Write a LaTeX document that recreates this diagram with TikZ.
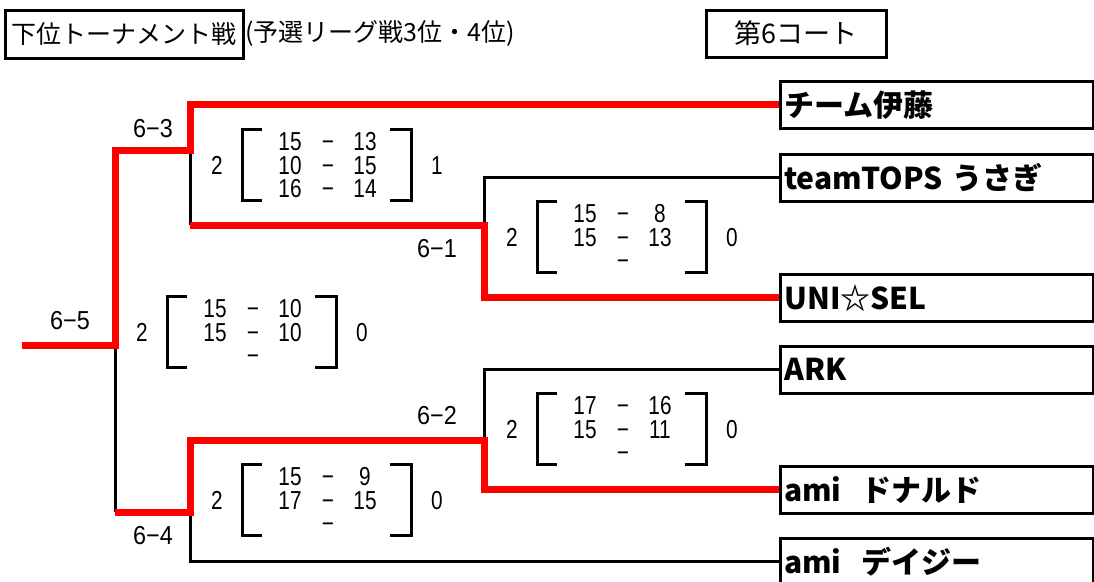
\documentclass[tikz,border=0pt]{standalone}
\usepackage{fontspec}
\setmainfont{Noto Sans CJK JP}
\newfontfamily\numfont[FakeStretch=0.8]{Liberation Sans}
\newfontfamily\lblfont[FakeStretch=0.9]{Liberation Sans}
\newcommand\matchblk[6]{%
  % #1 name, #2 xl, #3 yc, #4 winner sets, #5 loser sets, #6 rows a/b
  \begin{scope}[shift={(#2,#3)}]
    \node[score] (#1-w) at (-25,0) {#4};
    \node[score] (#1-l) at (195,0) {#5};
    \draw[brk] (20,-35.5) -- (0,-35.5) -- (0,35.5) -- (20,35.5);
    \draw[brk] (148,-35.5) -- (169,-35.5) -- (169,35.5) -- (148,35.5);
    \foreach \a/\b [count=\i] in {#6} {
      \node[score] (#1-a\i) at (48,{(\i-2)*23.5}) {\a};
      \node[score] (#1-d\i) at (86,{(\i-2)*23.5}) {−};
      \node[score] (#1-b\i) at (123,{(\i-2)*23.5}) {\b};
    }
  \end{scope}}
\begin{document}
\begin{tikzpicture}[x=1pt,y=-1pt,
  redln/.style={draw=red, line width=7pt},
  blkln/.style={draw=black, line width=3pt},
  brk/.style={draw=black, line width=3pt},
  team/.style={draw, line width=2.5pt, anchor=north west, minimum width=313pt,
    minimum height=47pt, text width=305pt, align=left, inner xsep=4pt,
    font=\fontsize{30}{30}\selectfont\bfseries},
  score/.style={font=\numfont\fontsize{26}{26}\selectfont, inner sep=0pt,
    text height=18.6pt, text depth=0pt},
  lbl/.style={font=\lblfont\fontsize{26}{26}\selectfont, inner sep=0pt,
    text height=18.6pt, text depth=0pt},
  hdr/.style={draw, line width=3pt, inner sep=0pt}]
\useasboundingbox (0,0) rectangle (1094,581);

% headers
\node[hdr, minimum width=238pt, minimum height=48pt, font=\fontsize{25}{25}\selectfont] (title) at (124,34) {下位トーナメント戦};
\node[anchor=west, inner sep=0pt, font=\fontsize{25}{25}\selectfont] (sub) at (245,33) {(予選リーグ戦3位・4位)};
\node[hdr, minimum width=180pt, minimum height=47pt, font=\fontsize{27}{27}\selectfont] (court) at (796,33.5) {第6コート};

% teams
\node[team] (t1) at (779,80) {チーム伊藤};
\node[team] (t2) at (779,153) {teamTOPS うさぎ};
\node[team] (t3) at (779,273) {UNI☆SEL};
\node[team] (t4) at (779,345) {ARK};
\node[team] (t5) at (779,465) {ami\ \ ドナルド};
\node[team] (t6) at (779,537) {ami\ \ デイジー};

% junctions
\coordinate (j3) at (190,150);
\coordinate (j3b) at (190,225);
\coordinate (j5t) at (115,150);
\coordinate (j5) at (115,345);
\coordinate (s) at (22,345);
\coordinate (j1) at (484,225);
\coordinate (j4) at (115,512);
\coordinate (j4r) at (190,512);
\coordinate (j2) at (484,440);

% black connectors
\draw[blkln] (j3) -- (j3b);
\draw[blkln] (t2.west) -| (j1);
\draw[blkln] (j5) -- (j4);
\draw[blkln] (t4.west) -| (j2);
\draw[blkln] (j4r) |- (t6.west);

% red winner paths
\draw[redln] (t1.west) -| (j3) -- (j5t) |- (s);
\draw[redln] (j3b) -- (j1) |- (t3.west);
\draw[redln] (j4) -- (j4r) |- (j2) |- (t5.west);

% match labels
\node[lbl] (l63) at (153,128) {6−3};
\node[lbl] (l61) at (437,248) {6−1};
\node[lbl] (l65) at (70,320) {6−5};
\node[lbl] (l62) at (437,415) {6−2};
\node[lbl] (l64) at (153,535) {6−4};

% scores
\matchblk{m63}{242}{165}{2}{1}{15/13,10/15,16/14}
\matchblk{m61}{537}{237}{2}{0}{15/8,15/13,/}
\matchblk{m65}{167}{332}{2}{0}{15/10,15/10,/}
\matchblk{m62}{537}{429}{2}{0}{17/16,15/11,/}
\matchblk{m64}{242}{500}{2}{0}{15/9,17/15,/}
\end{tikzpicture}
\end{document}
